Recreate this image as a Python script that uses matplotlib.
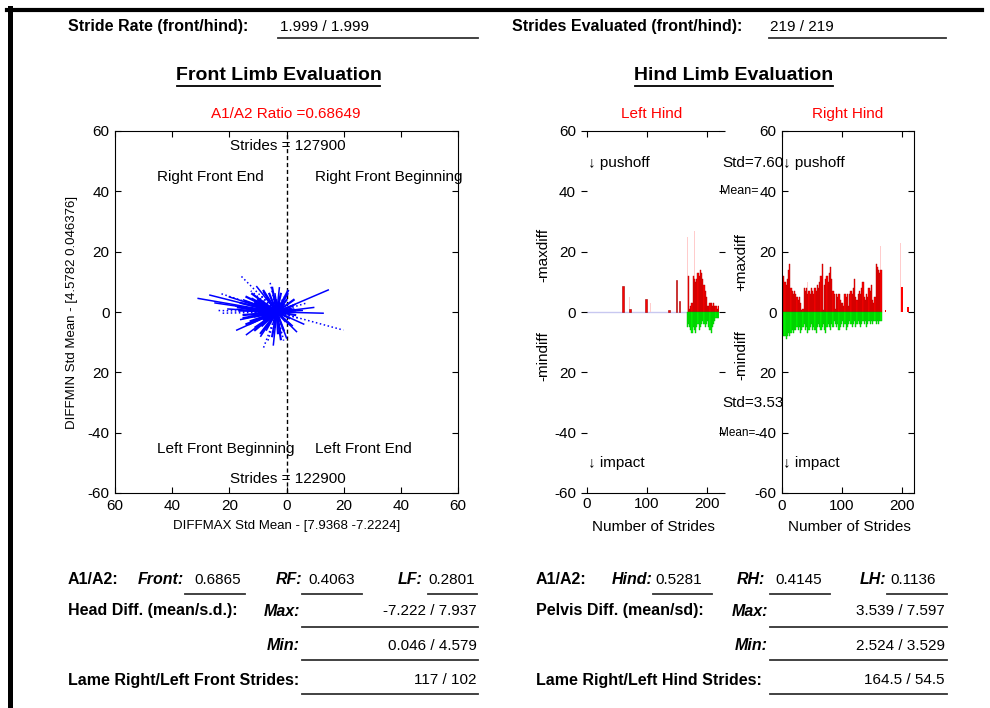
import numpy as np
import matplotlib
matplotlib.use("Agg")
import matplotlib.pyplot as plt
from matplotlib.lines import Line2D

plt.rcParams['font.family'] = ['Liberation Sans', 'DejaVu Sans']

# ---- data ----
stride_rate = "1.999 / 1.999"
strides_eval = "219 / 219"
a1a2_ratio = 0.68649

# front limb: head diff vectors, drawn from a common centre
front_center = (-3.4, 0.0)
front_end_x = [-16.3, -30.9, -26.8, -23.3, -20.0, -25.0, -22.7, -17.4, -14.0, -8.1,
               -4.6, 0.0, 19.9, 14.6, 12.8, 7.1, 9.5, 6.0, -5.8, 0.5,
               -10.4, -12.5, -8.0, -2.5, -18.0, -15.0, -14.0, -12.0, -11.0, -9.0,
               -6.5, -2.0, 2.0, 4.0, 5.5, 3.0, -1.0, -4.0, -7.0, -10.0,
               -13.0, -16.0, -9.5, -7.0, -4.0, 1.0, 2.5, -1.5, -5.0, -8.0,
               -11.0, -6.0, -3.0, 0.0, -2.0, -7.5, -5.5, -9.0, -3.5, -12.0,
               -1.0, 3.5, -20.5, -24.0]
front_end_y = [12.3, 4.5, 5.6, 6.2, 5.0, 3.0, -0.4, -6.0, -7.5, -12.0,
               -10.9, -8.6, -6.0, 7.3, -0.4, 3.0, 1.5, -4.0, 10.0, 6.0,
               8.4, 7.0, 6.5, 8.0, 2.0, 4.0, 1.0, -3.0, -5.0, -8.0,
               -9.5, -7.0, -4.5, -2.0, 0.5, 2.5, 5.0, 6.0, 4.5, 3.0,
               -1.5, -2.5, -2.0, -6.0, -5.0, -2.0, 1.0, 2.5, 2.0, 1.0,
               0.0, -3.0, -3.5, 0.5, -1.0, -1.0, 0.5, 5.5, 4.0, 4.5,
               -9.5, -6.5, 1.0, 0.5]
# short vectors making up the dense core
front_core_x = [-16, -15, -14, -13, -12, -11, -10, -9, -8, -7, -6, -5, -4, -3, -2, -1, 0, 1, 2, 3,
                -16.5, -14.5, -12.5, -10.5, -8.5, -6.5, -4.5, -2.5, -0.5, 1.5,
                -15, -13, -11, -9, -7, -5, -3, -1, 1, 3,
                -17, -14, -11, -8, -5, -2, 0.5, 2.5, -9.5, -6]
front_core_y = [3, -2, 5, -4, 6, -6, 4, -7, 7, -5, 6, -8, 5, -7, 6, -6, 4, -4, 2, -1,
                0.5, 3.5, -3, 2, -4.5, 4.5, -3.5, 3, -3, 1,
                -1, 1, -1.5, 2, -2, 1.5, -1, 2.5, -2, 0.5,
                1.5, -4, 3, -2.5, 8, -9, 7, 4, 0, -1]

# left hind
lh_max_strides = [59, 70, 97, 135, 148, 153]
lh_max_vals = [8.5, 1.0, 4.3, 0.8, 10.7, 3.5]
lh_run_start = 168
lh_run_max = [12, 1, 2, 3, 12, 11, 10, 11, 13, 12, 14, 13, 11, 9, 7, 5, 2, 2, 3, 3,
              2, 3, 2, 2, 1, 2]
lh_min_start = 166
lh_run_min = [-5, -4, -5, -6, -7, -5, -6, -7, -5, -4, -6, -5, -4, -3, -4, -5, -4, -3,
              -5, -6, -7, -5, -4, -3, -2, -2, -2]
lh_faint_strides = [70, 105, 166, 179]
lh_faint_vals = [5, 3, 25, 26.7]
lh_base_end = 165

# right hind
rh_run_start = 0
rh_run_max = [11, 12, 10, 9, 11, 14, 16, 8, 7, 6,
              7, 6, 5, 4, 5, 3, 0.5, 1, 8, 7,
              8, 6, 7, 6, 8, 7, 6, 8, 7, 9,
              8, 10, 12, 16, 0.5, 9, 11, 12, 10, 13,
              15, 11, 7, 6, 1, 6, 5, 6, 4, 3,
              3, 2, 6, 5, 6, 2, 6, 7, 6, 8,
              11, 5, 4, 6, 7, 6, 8, 10, 5, 4,
              6, 5, 8, 7, 9, 4, 3, 5, 16, 15,
              14, 13, 14]
rh_run_min = [-7, -8, -8, -9, -8, -7, -8, -7, -6, -7,
              -6, -6, -5, -6, -5, -7, -6, -5, -4, -6,
              -5, -7, -6, -5, -4, -6, -5, -6, -7, -5,
              -4, -5, -6, -5, -4, -6, -7, -5, -4, -5,
              -6, -4, -5, -3, -4, -5, -4, -6, -5, -4,
              -3, -5, -4, -6, -5, -4, -3, -4, -5, -4,
              -3, -5, -4, -3, -4, -5, -4, -3, -4, -3,
              -5, -4, -3, -4, -3, -4, -3, -3, -4, -3,
              -4, -3, -3]
rh_max_strides = [171, 199, 209]
rh_max_vals = [0.8, 8.3, 1.7]
rh_faint_strides = [41, 163, 197]
rh_faint_vals = [10, 22, 23]

yticks = [-60, -40, -20, 0, 20, 40, 60]
ytick_labels = ['-60', '-40', '20', '0', '20', '40', '60']
xticks_front = [-60, -40, -20, 0, 20, 40, 60]
xtick_labels_front = ['60', '40', '20', '0', '20', '40', '60']

W, H = 990, 708
fig = plt.figure(figsize=(W / 100, H / 100), dpi=100)


def fx(px):
    return px / W


def fy(py):
    return 1 - py / H


def txt(px, py, s, **kw):
    kw.setdefault('fontsize', 11)
    fig.text(fx(px), fy(py), s, va='center', **kw)


def uline(x0, x1, py, lw=1.3, color='#333333'):
    fig.add_artist(Line2D([fx(x0), fx(x1)], [fy(py), fy(py)], color=color, lw=lw))


def box(x0, x1, y0, y1):
    return [fx(x0), fy(y1), (x1 - x0) / W, (y1 - y0) / H]


BOLD = 11.5

# page border
fig.add_artist(Line2D([fx(7), fx(982)], [fy(10), fy(10)], color='k', lw=3))
fig.add_artist(Line2D([fx(9.5), fx(9.5)], [fy(8), fy(708)], color='k', lw=3.6))

# header
txt(68, 27, "Stride Rate (front/hind):", fontweight='bold', fontsize=BOLD)
txt(280, 27, stride_rate)
uline(278, 478, 38)
txt(512, 27, "Strides Evaluated (front/hind):", fontweight='bold', fontsize=BOLD)
txt(770, 27, strides_eval)
uline(769, 946, 38)

txt(278.5, 76, "Front Limb Evaluation", fontsize=14, fontweight='bold', ha='center')
uline(177, 380, 86, lw=1.3, color='k')
txt(734, 76, "Hind Limb Evaluation", fontsize=14, fontweight='bold', ha='center')
uline(635, 833, 86, lw=1.3, color='k')

txt(286, 114, "A1/A2 Ratio =%.5f" % a1a2_ratio, color='red', ha='center')
txt(652, 114, "Left Hind", color='red', ha='center')
txt(848, 114, "Right Hind", color='red', ha='center')

# ---- front limb scatter ----
axF = fig.add_axes(box(115, 458, 131, 493))
axF.set_xlim(-60, 60)
axF.set_ylim(-60, 60)
axF.axvline(0, color='k', ls=(0, (3, 2)), lw=1, zorder=1)
cx, cy = front_center
for i, (ex, ey) in enumerate(zip(front_end_x, front_end_y)):
    ls = ':' if i % 3 == 0 else '-'
    axF.plot([cx, ex], [cy, ey], color='#0000ff', lw=1.1, ls=ls, zorder=2)
for ex, ey in zip(front_core_x, front_core_y):
    axF.plot([cx, ex], [cy, ey], color='#0000ff', lw=1.6, zorder=2)
axF.set_xticks(xticks_front)
axF.set_xticklabels(xtick_labels_front)
axF.set_yticks(yticks)
axF.set_yticklabels(ytick_labels)
axF.tick_params(direction='in', top=True, right=True, length=4, labelsize=11, pad=4)
axF.text(-19.8, 55, "Strides = 127900", fontsize=11, va='center')
axF.text(-45.3, 44.8, "Right Front End", fontsize=11, va='center')
axF.text(10.0, 44.8, "Right Front Beginning", fontsize=11, va='center')
axF.text(-45.3, -45.4, "Left Front Beginning", fontsize=11, va='center')
axF.text(10.0, -45.4, "Left Front End", fontsize=11, va='center')
axF.text(-19.8, -55.4, "Strides = 122900", fontsize=11, va='center')
txt(287, 526, "DIFFMAX Std Mean - [7.9368 -7.2224]", fontsize=9.5, ha='center')
txt(72, 312, "DIFFMIN Std Mean - [4.5782 0.046376]", fontsize=9.5, ha='center', rotation=90)

# ---- left hind ----
axL = fig.add_axes(box(587, 719, 131, 493))
axL.set_xlim(0, 220)
axL.set_ylim(-60, 60)
axL.plot([0, lh_base_end], [0, 0], color='#c8c8f0', lw=1, zorder=1)
axL.bar(lh_faint_strides, lh_faint_vals, width=1.5, align='edge', color='#ffcccc', zorder=1)
axL.bar(lh_max_strides, lh_max_vals, width=2.5, align='edge', color='#ff0000',
        edgecolor='#a00000', lw=0.4, zorder=2)
axL.bar(lh_run_start + 2 * np.arange(len(lh_run_max)), lh_run_max, width=2, align='edge',
        color='#ff0000', edgecolor='#b00000', lw=0.3, zorder=2)
axL.bar(lh_min_start + 2 * np.arange(len(lh_run_min)), lh_run_min, width=2, align='edge',
        color='#00ff00', edgecolor='#00b000', lw=0.3, zorder=2)
for s in ['left', 'right']:
    axL.spines[s].set_visible(False)
axL.set_xticks([0, 100, 200])
axL.set_yticks(yticks)
axL.set_yticklabels(ytick_labels)
axL.tick_params(axis='x', direction='in', top=True, length=4, labelsize=11, pad=3)
axL.tick_params(axis='y', direction='out', right=True, length=4, labelsize=11, pad=4)
axL.text(1.5, 49.4, "\u2193 pushoff", fontsize=11, va='center')
axL.text(1.5, -50, "\u2193 impact", fontsize=11, va='center')
axL.text(225, 49.4, "Std=7.60", fontsize=11, va='center')
axL.text(222, 40, "Mean=", fontsize=9, va='center')
axL.text(225, -30.2, "Std=3.53", fontsize=11, va='center')
axL.text(220, -40, "Mean=", fontsize=8.5, va='center')
txt(653, 527, "Number of Strides", ha='center')
txt(543, 255, "-maxdiff", ha='center', rotation=90)
txt(543, 356, "-mindiff", ha='center', rotation=90)

# ---- right hind ----
axR = fig.add_axes(box(782, 914, 131, 493))
axR.set_xlim(0, 220)
axR.set_ylim(-60, 60)
axR.bar(rh_faint_strides, rh_faint_vals, width=1.5, align='edge', color='#ffcccc', zorder=1)
axR.bar(rh_run_start + 2 * np.arange(len(rh_run_max)), rh_run_max, width=2, align='edge',
        color='#ff0000', edgecolor='#b00000', lw=0.3, zorder=2)
axR.bar(rh_run_start + 2 * np.arange(len(rh_run_min)), rh_run_min, width=2, align='edge',
        color='#00ff00', edgecolor='#00b000', lw=0.3, zorder=2)
axR.bar(rh_max_strides, rh_max_vals, width=2.5, align='edge', color='#ff0000', zorder=2)
axR.set_xticks([0, 100, 200])
axR.set_yticks(yticks)
axR.set_yticklabels(ytick_labels)
axR.tick_params(direction='in', top=True, right=True, length=4, labelsize=11, pad=4)
axR.text(2, 49.4, "\u2193 pushoff", fontsize=11, va='center')
axR.text(2, -50, "\u2193 impact", fontsize=11, va='center')
txt(849, 527, "Number of Strides", ha='center')
txt(741, 262, "+maxdiff", ha='center', rotation=90)
txt(741, 355, "-mindiff", ha='center', rotation=90)

# ---- summary table, front ----
r1, r2, r3, r4 = 580, 611, 646, 680
u1, u2, u3, u4 = 594, 627, 660, 694
txt(68, r1, "A1/A2:", fontweight='bold', fontsize=BOLD)
txt(138, r1, "Front:", fontweight='bold', style='italic', fontsize=BOLD)
txt(194, r1, "0.6865")
uline(185, 245, u1)
txt(276, r1, "RF:", fontweight='bold', style='italic', fontsize=BOLD)
txt(308, r1, "0.4063")
uline(302, 362, u1)
txt(398, r1, "LF:", fontweight='bold', style='italic', fontsize=BOLD)
txt(428, r1, "0.2801")
uline(428, 477, u1)
txt(68, r2, "Head Diff. (mean/s.d.):", fontweight='bold', fontsize=BOLD)
txt(300, r2, "Max:", fontweight='bold', style='italic', ha='right', fontsize=BOLD)
txt(477, r2, "-7.222 / 7.937", ha='right')
uline(302, 478, u2)
txt(300, r3, "Min:", fontweight='bold', style='italic', ha='right', fontsize=BOLD)
txt(477, r3, "0.046 / 4.579", ha='right')
uline(302, 478, u3)
txt(68, r4, "Lame Right/Left Front Strides:", fontweight='bold', fontsize=BOLD)
txt(477, r4, "117 / 102", ha='right')
uline(302, 478, u4)

# ---- summary table, hind ----
txt(536, r1, "A1/A2:", fontweight='bold', fontsize=BOLD)
txt(612, r1, "Hind:", fontweight='bold', style='italic', fontsize=BOLD)
txt(655, r1, "0.5281")
uline(653, 712, u1)
txt(737, r1, "RH:", fontweight='bold', style='italic', fontsize=BOLD)
txt(775, r1, "0.4145")
uline(770, 830, u1)
txt(860, r1, "LH:", fontweight='bold', style='italic', fontsize=BOLD)
txt(890, r1, "0.1136")
uline(887, 947, u1)
txt(536, r2, "Pelvis Diff. (mean/sd):", fontweight='bold', fontsize=BOLD)
txt(768, r2, "Max:", fontweight='bold', style='italic', ha='right', fontsize=BOLD)
txt(945, r2, "3.539 / 7.597", ha='right')
uline(770, 947, u2)
txt(768, r3, "Min:", fontweight='bold', style='italic', ha='right', fontsize=BOLD)
txt(945, r3, "2.524 / 3.529", ha='right')
uline(770, 947, u3)
txt(536, r4, "Lame Right/Left Hind Strides:", fontweight='bold', fontsize=BOLD)
txt(945, r4, "164.5 / 54.5", ha='right')
uline(770, 947, u4)

fig.savefig("out.png", dpi=100)
